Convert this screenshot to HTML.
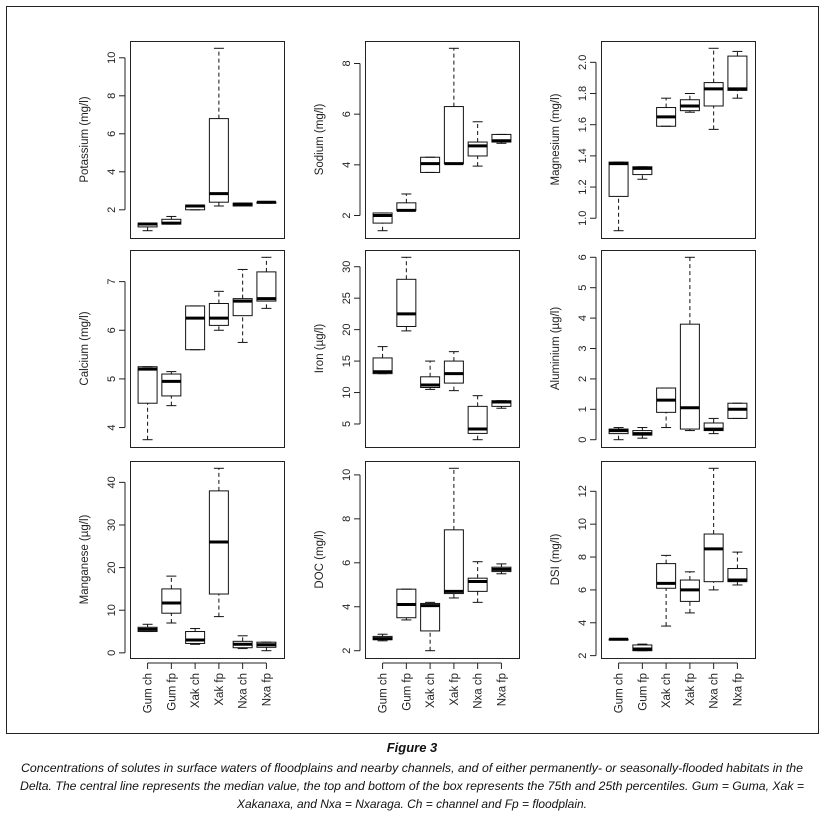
<!DOCTYPE html>
<html><head><meta charset="utf-8"><style>
html,body{margin:0;padding:0;background:#fff;}
svg{display:block;font-family:"Liberation Sans",Arial,sans-serif;}
</style></head><body>
<svg id="fig" width="825" height="818" viewBox="0 0 825 818" xmlns="http://www.w3.org/2000/svg">
<rect x="6.5" y="6.5" width="812" height="727" fill="none" stroke="#222" stroke-width="1"/>
<text x="412" y="752" text-anchor="middle" font-size="13" font-weight="bold" font-style="italic" fill="#111">Figure 3</text>
<text x="412" y="772" text-anchor="middle" font-size="11.5" font-style="italic" fill="#111" textLength="782" lengthAdjust="spacingAndGlyphs">Concentrations of solutes in surface waters of floodplains and nearby channels, and of either permanently- or seasonally-flooded habitats in the</text>
<text x="412" y="790" text-anchor="middle" font-size="11.5" font-style="italic" fill="#111" textLength="784" lengthAdjust="spacingAndGlyphs">Delta. The central line represents the median value, the top and bottom of the box represents the 75th and 25th percentiles. Gum = Guma, Xak =</text>
<text x="412" y="808" text-anchor="middle" font-size="11.5" font-style="italic" fill="#111" textLength="350" lengthAdjust="spacingAndGlyphs">Xakanaxa, and Nxa = Nxaraga. Ch = channel and Fp = floodplain.</text>
</svg>
<script>
const categories = ["Gum ch","Gum fp","Xak ch","Xak fp","Nxa ch","Nxa fp"];
const titles = ["Potassium (mg/l)","Sodium (mg/l)","Magnesium (mg/l)","Calcium (mg/l)","Iron (µg/l)","Aluminium (µg/l)","Manganese (µg/l)","DOC (mg/l)","DSI (mg/l)"];
// each box: [lower whisker, q1, median, q3, upper whisker]
const potassium = [[0.9,1.1,1.25,1.3,1.3],[1.25,1.25,1.3,1.5,1.65],[2.0,2.0,2.2,2.25,2.25],[2.2,2.4,2.85,6.8,10.5],[2.2,2.2,2.3,2.35,2.35],[2.35,2.35,2.4,2.4,2.4]];
const sodium = [[1.4,1.7,2.0,2.1,2.1],[2.2,2.2,2.2,2.5,2.85],[3.7,3.7,4.05,4.3,4.3],[4.05,4.05,4.05,6.3,8.6],[3.95,4.35,4.75,4.9,5.7],[4.85,4.9,4.95,5.2,5.2]];
const magnesium = [[0.92,1.14,1.35,1.36,1.36],[1.25,1.28,1.32,1.33,1.33],[1.59,1.59,1.65,1.71,1.77],[1.68,1.69,1.72,1.76,1.8],[1.57,1.72,1.83,1.87,2.09],[1.77,1.82,1.83,2.04,2.07]];
const calcium = [[3.75,4.5,5.2,5.25,5.25],[4.45,4.65,4.95,5.1,5.15],[5.6,5.6,6.25,6.5,6.5],[6.0,6.1,6.25,6.55,6.8],[5.75,6.3,6.6,6.65,7.25],[6.45,6.6,6.65,7.2,7.5]];
const iron = [[13,13,13.3,15.5,17.3],[19.8,20.5,22.5,28,31.5],[10.5,10.8,11.2,12.5,15],[10.3,11.5,13,15,16.5],[2.5,3.5,4.2,7.8,9.5],[7.5,7.8,8.5,8.7,8.7]];
const aluminium = [[0.0,0.2,0.3,0.35,0.4],[0.05,0.15,0.2,0.3,0.4],[0.4,0.9,1.3,1.7,1.7],[0.3,0.35,1.05,3.8,6.0],[0.2,0.3,0.35,0.55,0.7],[0.7,0.7,1.0,1.2,1.2]];
const manganese = [[5,5,5.5,6,6.7],[7,9.3,11.7,15,18],[2,2.2,3,5,5.7],[8.5,13.8,26,38,43.3],[1,1.2,2,2.7,4],[0.5,1.3,1.9,2.5,2.5]];
const doc = [[2.45,2.5,2.55,2.65,2.75],[3.4,3.5,4.1,4.8,4.8],[2.0,2.9,4.05,4.15,4.2],[4.4,4.6,4.7,7.5,10.3],[4.2,4.7,5.15,5.3,6.05],[5.5,5.6,5.7,5.8,5.95]];
const dsi = [[2.95,2.95,3.0,3.0,3.0],[2.3,2.3,2.4,2.65,2.7],[3.8,6.1,6.4,7.6,8.1],[4.6,5.3,6.0,6.6,7.1],[6.0,6.5,8.5,9.4,13.4],[6.3,6.5,6.6,7.3,8.3]];
const ticksK = [2,4,6,8,10];
const ticksNa = [2,4,6,8];
const ticksMg = [1.0,1.2,1.4,1.6,1.8,2.0];
const ticksCa = [4,5,6,7];
const ticksFe = [5,10,15,20,25,30];
const ticksAl = [0,1,2,3,4,5,6];
const ticksMn = [0,10,20,30,40];
const ticksDoc = [2,4,6,8,10];
const ticksDsi = [2,4,6,8,10,12];
const panelData = [potassium,sodium,magnesium,calcium,iron,aluminium,manganese,doc,dsi];
const panelTicks = [ticksK,ticksNa,ticksMg,ticksCa,ticksFe,ticksAl,ticksMn,ticksDoc,ticksDsi];

const NS="http://www.w3.org/2000/svg";
const svg=document.getElementById('fig');
const colX=[130,365,601], rowY=[41,250,461], PW=154, PH=197;
function mk(tag,attrs,parent){const e=document.createElementNS(NS,tag);for(const k in attrs)e.setAttribute(k,attrs[k]);(parent||svg).appendChild(e);return e;}

panelData.forEach((data,p)=>{
  const L=colX[p%3], T=rowY[Math.floor(p/3)];
  const g=mk('g',{});
  
  
  let lo=Infinity,hi=-Infinity;
  data.forEach(d=>{lo=Math.min(lo,d[0]);hi=Math.max(hi,d[4]);});
  const ext=(hi-lo)*0.04; const y0=lo-ext,y1=hi+ext;
  const y=v=>T+PH-(v-y0)/(y1-y0)*PH;
  const x0=0.26,x1=6.74; const x=i=>L+(i+1-x0)/(x1-x0)*PW;
  const f=mk('rect',{x:L+0.5,y:T+0.5,width:PW,height:PH,fill:'none',stroke:'#222','stroke-width':1},g);
  
  
  const ts=panelTicks[p];
  const ya=mk('line',{x1:L-5,x2:L-5,y1:y(ts[0]),y2:y(ts[ts.length-1]),stroke:'#222'},g);
  
  
  ts.forEach(t=>{
    const yy=y(t);
    mk('line',{x1:L-11,x2:L-5,y1:yy,y2:yy,stroke:'#222'},g);
    const tx=mk('text',{x:0,y:0,transform:`translate(${L-15},${yy}) rotate(-90)`,'text-anchor':'middle','font-size':11,fill:'#222'},g);
    
    
    tx.textContent=(p===2)?t.toFixed(1):String(t);
  });
  const yt=mk('text',{x:0,y:0,transform:`translate(${L-42},${T+PH/2}) rotate(-90)`,'text-anchor':'middle','font-size':11.5,fill:'#222'},g);
  
  
  yt.textContent=titles[p];
  const hw=9.5, cw=5;
  data.forEach((d,i)=>{
    const cx=x(i);
    const bg=mk('g',{},g);
    
    
    const S={stroke:'#111','stroke-width':1,fill:'none'};
    if(d[0]<d[1]) mk('line',Object.assign({x1:cx,x2:cx,y1:y(d[0]),y2:y(d[1]),'stroke-dasharray':'4,3'},S),bg);
    if(d[4]>d[3]) mk('line',Object.assign({x1:cx,x2:cx,y1:y(d[3]),y2:y(d[4]),'stroke-dasharray':'4,3'},S),bg);
    mk('line',Object.assign({x1:cx-cw,x2:cx+cw,y1:y(d[0]),y2:y(d[0])},S),bg);
    mk('line',Object.assign({x1:cx-cw,x2:cx+cw,y1:y(d[4]),y2:y(d[4])},S),bg);
    mk('rect',Object.assign({x:cx-hw,y:y(d[3]),width:2*hw,height:Math.max(0.5,y(d[1])-y(d[3]))},S),bg);
    mk('line',{x1:cx-hw,x2:cx+hw,y1:y(d[2]),y2:y(d[2]),stroke:'#000','stroke-width':3},bg);
  });
  if(p>=6){
    mk('line',{x1:x(0),x2:x(5),y1:T+PH+5,y2:T+PH+5,stroke:'#222'},g);
    categories.forEach((c,i)=>{
      const cx=x(i);
      mk('line',{x1:cx,x2:cx,y1:T+PH+5,y2:T+PH+11,stroke:'#222'},g);
      const lt=mk('text',{x:0,y:0,transform:`translate(${cx+4},${T+PH+15}) rotate(-90)`,'text-anchor':'end','font-size':11.5,fill:'#222'},g);
      
      
      lt.textContent=c;
    });
  }
});
</script>
</body></html>
